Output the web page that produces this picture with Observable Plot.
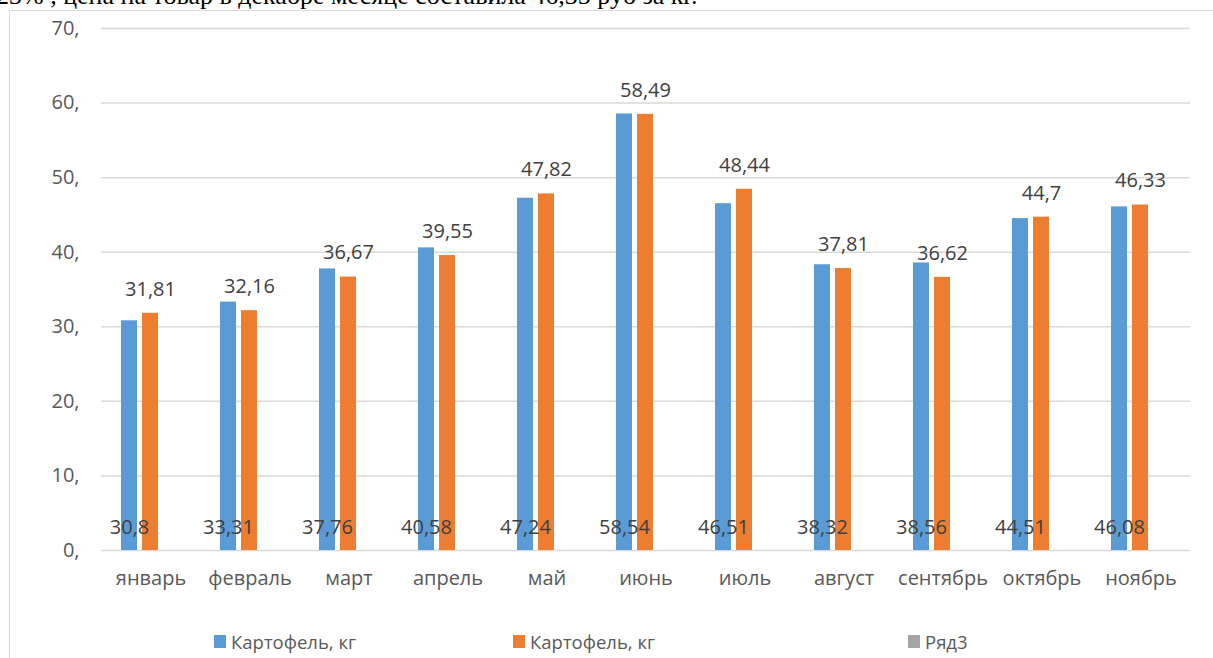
<!DOCTYPE html>
<html>
<head>
<meta charset="utf-8">
<script src="https://cdn.jsdelivr.net/npm/d3@7"></script>
<script src="https://cdn.jsdelivr.net/npm/@observablehq/plot@0.6"></script>
<style>
  html, body { margin: 0; padding: 0; background: #fff; }
  #page { position: relative; width: 1213px; height: 658px; overflow: hidden; }
  #lead { position: absolute; left: -4px; top: -17px; font-family: "Liberation Serif", "Times New Roman", serif; font-size: 26px; line-height: 26px; color: #000; white-space: nowrap; }
  #frame { position: absolute; left: 9px; top: 10px; width: 1300px; height: 700px; border-left: 1.5px solid #d9d9d9; border-top: 1.5px solid #d9d9d9; }
  #chart { position: absolute; left: 0; top: 0; }
  .lg { position: absolute; top: 629px; font-family: "Open Sans", sans-serif; font-size: 18.5px; color: #595959; display: flex; align-items: center; white-space: nowrap; }
  .sw { width: 12px; height: 13px; margin-right: 5px; }
</style>
</head>
<body>
<div id="page">
  <div id="lead">23% , цена на товар в декабре месяце составила 46,35 руб за кг.</div>
  <div id="frame"></div>
  <div id="chart"></div>
  <div id="legend"></div>
</div>
<script>
const months = ["январь","февраль","март","апрель","май","июнь","июль","август","сентябрь","октябрь","ноябрь"];
const seriesNames = ["Картофель, кг", "Картофель, кг ", "Ряд3"];
const seriesColors = ["#5b9bd5", "#ed7d31", "#a5a5a5"];
const series1 = [30.8, 33.31, 37.76, 40.58, 47.24, 58.54, 46.51, 38.32, 38.56, 44.51, 46.08];
const series2 = [31.81, 32.16, 36.67, 39.55, 47.82, 58.49, 48.44, 37.81, 36.62, 44.7, 46.33];
const series3 = [null, null, null, null, null, null, null, null, null, null, null];
const yTicks = [0, 10, 20, 30, 40, 50, 60, 70];

const rows = [];
[series1, series2, series3].forEach((vals, si) => {
  vals.forEach((v, i) => rows.push({month: months[i], series: seriesNames[si], value: v, si}));
});
const r1 = rows.filter(d => d.si === 0);
const r2 = rows.filter(d => d.si === 1);
const bars = rows.filter(d => d.value != null);
const fmt = v => String(v).replace(".", ",");

const chart = Plot.plot({
  width: 1213,
  height: 658,
  marginTop: 28,
  marginBottom: 108,
  marginLeft: 97,
  marginRight: 19,
  style: {fontFamily: "'Open Sans', sans-serif", background: "transparent"},
  fx: {domain: months, padding: 0, label: null},
  x: {domain: seriesNames, paddingInner: 0.227, paddingOuter: 0.875, axis: null},
  y: {domain: [0, 70], label: null},
  color: {domain: seriesNames, range: seriesColors},
  marks: [
    Plot.ruleY(yTicks, {stroke: "#d9d9d9", strokeWidth: 1.5}),
    Plot.barY(bars, {fx: "month", x: "series", y: "value", fill: "series"}),
    Plot.text(r1, {fx: "month", x: "series", y: () => 0, text: d => fmt(d.value), dy: -23, fontSize: 20, fill: "#404040"}),
    Plot.text(r2, {fx: "month", x: "series", y: "value", text: d => fmt(d.value), dy: -24, fontSize: 20, fill: "#404040"}),
    Plot.axisY({ticks: yTicks, tickFormat: d => d + ",", tickSize: 0, tickPadding: 22, fontSize: 20, fill: "#595959", label: null}),
    Plot.axisFx({anchor: "bottom", tickSize: 0, tickPadding: 20, fontSize: 20, fill: "#595959", label: null})
  ]
});
document.getElementById("chart").appendChild(chart);

const legendPos = [214, 513, 908];
const legend = document.getElementById("legend");
seriesNames.forEach((n, i) => {
  const el = document.createElement("div");
  el.className = "lg";
  el.style.left = legendPos[i] + "px";
  el.innerHTML = `<div class="sw" style="background:${seriesColors[i]}"></div><span>${n.trim()}</span>`;
  legend.appendChild(el);
});
</script>
</body>
</html>
